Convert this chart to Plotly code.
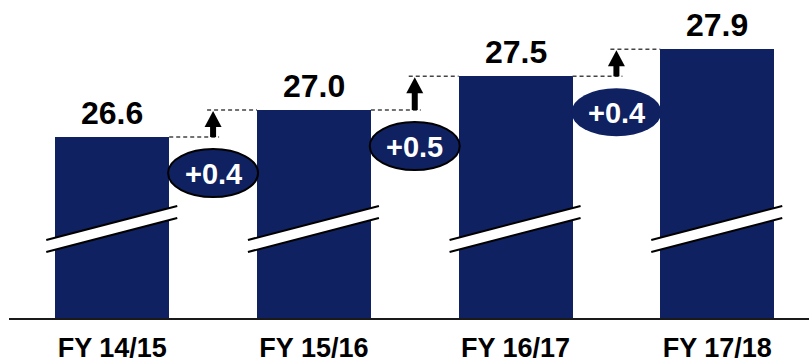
import plotly.graph_objects as go

# ---- data ----
categories = ["FY 14/15", "FY 15/16", "FY 16/17", "FY 17/18"]
values = [26.6, 27.0, 27.5, 27.9]
deltas = ["+0.4", "+0.5", "+0.4"]

# ---- style ----
NAVY = "#0f2161"
FONT = "Liberation Sans, Arial, sans-serif"
BAR_W = 0.565
Y_RANGE = [23.92, 28.63]
X_RANGE = [-0.512, 3.455]
PLOT_H = 318
PX_PER_UNIT = PLOT_H / (Y_RANGE[1] - Y_RANGE[0])
PX_PER_CAT = 800 / (X_RANGE[1] - X_RANGE[0])
ellipse_border = [2, 2, 0]

xs = list(range(len(categories)))

fig = go.Figure()
fig.add_trace(go.Bar(
    x=xs, y=values, width=BAR_W,
    marker=dict(color=NAVY, line=dict(width=0)),
    hoverinfo="skip",
))

shapes = []
annotations = []

# value labels
for x, v in zip(xs, values):
    annotations.append(dict(
        x=x, y=v, xref="x", yref="y", text=f"<b>{v:.1f}</b>",
        showarrow=False, yanchor="bottom", yshift=4,
        font=dict(family=FONT, size=32, color="black"),
    ))

# axis break marks on each bar
for x in xs:
    shapes.append(dict(
        type="path", xref="x", yref="y", xsizemode="pixel", ysizemode="pixel",
        xanchor=x, yanchor=Y_RANGE[0],
        path="M -66,66 L 65,100 L 65,112 L -66,78 Z",
        fillcolor="white", line=dict(width=0), layer="above",
    ))
    for p in ("M -66,78 L 65,112", "M -66,66 L 65,100"):
        shapes.append(dict(
            type="path", xref="x", yref="y", xsizemode="pixel", ysizemode="pixel",
            xanchor=x, yanchor=Y_RANGE[0], path=p,
            line=dict(color="black", width=2), layer="above",
        ))

# step arrows, dashed guides, delta ellipses
dx = 6 / PX_PER_CAT
for i, d in enumerate(deltas):
    prev, nxt = values[i], values[i + 1]
    mx = i + 0.5
    shapes.append(dict(type="line", xref="x", yref="y",
                       x0=i + BAR_W / 2, x1=mx + dx, y0=prev, y1=prev,
                       line=dict(color="#444444", width=1.5, dash="4px,3px")))
    shapes.append(dict(type="line", xref="x", yref="y",
                       x0=mx - dx, x1=i + 1 - BAR_W / 2, y0=nxt, y1=nxt,
                       line=dict(color="#444444", width=1.5, dash="4px,3px")))
    shapes.append(dict(type="rect", xref="x", yref="y", xsizemode="pixel",
                       xanchor=mx, x0=-3, x1=3,
                       y0=prev, y1=nxt - 10 / PX_PER_UNIT,
                       fillcolor="black", line=dict(width=0)))
    shapes.append(dict(type="path", xref="x", yref="y", xsizemode="pixel", ysizemode="pixel",
                       xanchor=mx, yanchor=nxt,
                       path="M 0,-1 L 8.5,-17 L -8.5,-17 Z",
                       fillcolor="black", line=dict(width=0)))
    bw = ellipse_border[i]
    shapes.append(dict(type="circle", xref="x", yref="y", xsizemode="pixel", ysizemode="pixel",
                       xanchor=mx, yanchor=prev, x0=-45, x1=45, y0=-36 - 24, y1=-36 + 24,
                       fillcolor=NAVY,
                       line=dict(color="black", width=bw) if bw else dict(width=0)))
    annotations.append(dict(
        x=mx, y=prev, xref="x", yref="y", text=f"<b>{d}</b>",
        showarrow=False, yanchor="middle", yshift=-37,
        font=dict(family=FONT, size=29, color="white"),
    ))

fig.update_layout(
    width=809, height=363,
    margin=dict(l=9, r=0, t=0, b=45, autoexpand=False),
    paper_bgcolor="white", plot_bgcolor="white",
    showlegend=False, bargap=0,
    shapes=shapes, annotations=annotations,
    xaxis=dict(
        range=X_RANGE, tickvals=xs, ticktext=[f"<b>{c}</b>" for c in categories],
        tickfont=dict(family=FONT, size=27, color="black"),
        showline=True, linecolor="#1a1a1a", linewidth=2,
        showgrid=False, zeroline=False, ticks="", ticklabelstandoff=5,
        fixedrange=True, automargin=False,
    ),
    yaxis=dict(range=Y_RANGE, visible=False, showgrid=False, fixedrange=True,
               automargin=False),
)

fig.write_html("out.html", config={"displayModeBar": False})
